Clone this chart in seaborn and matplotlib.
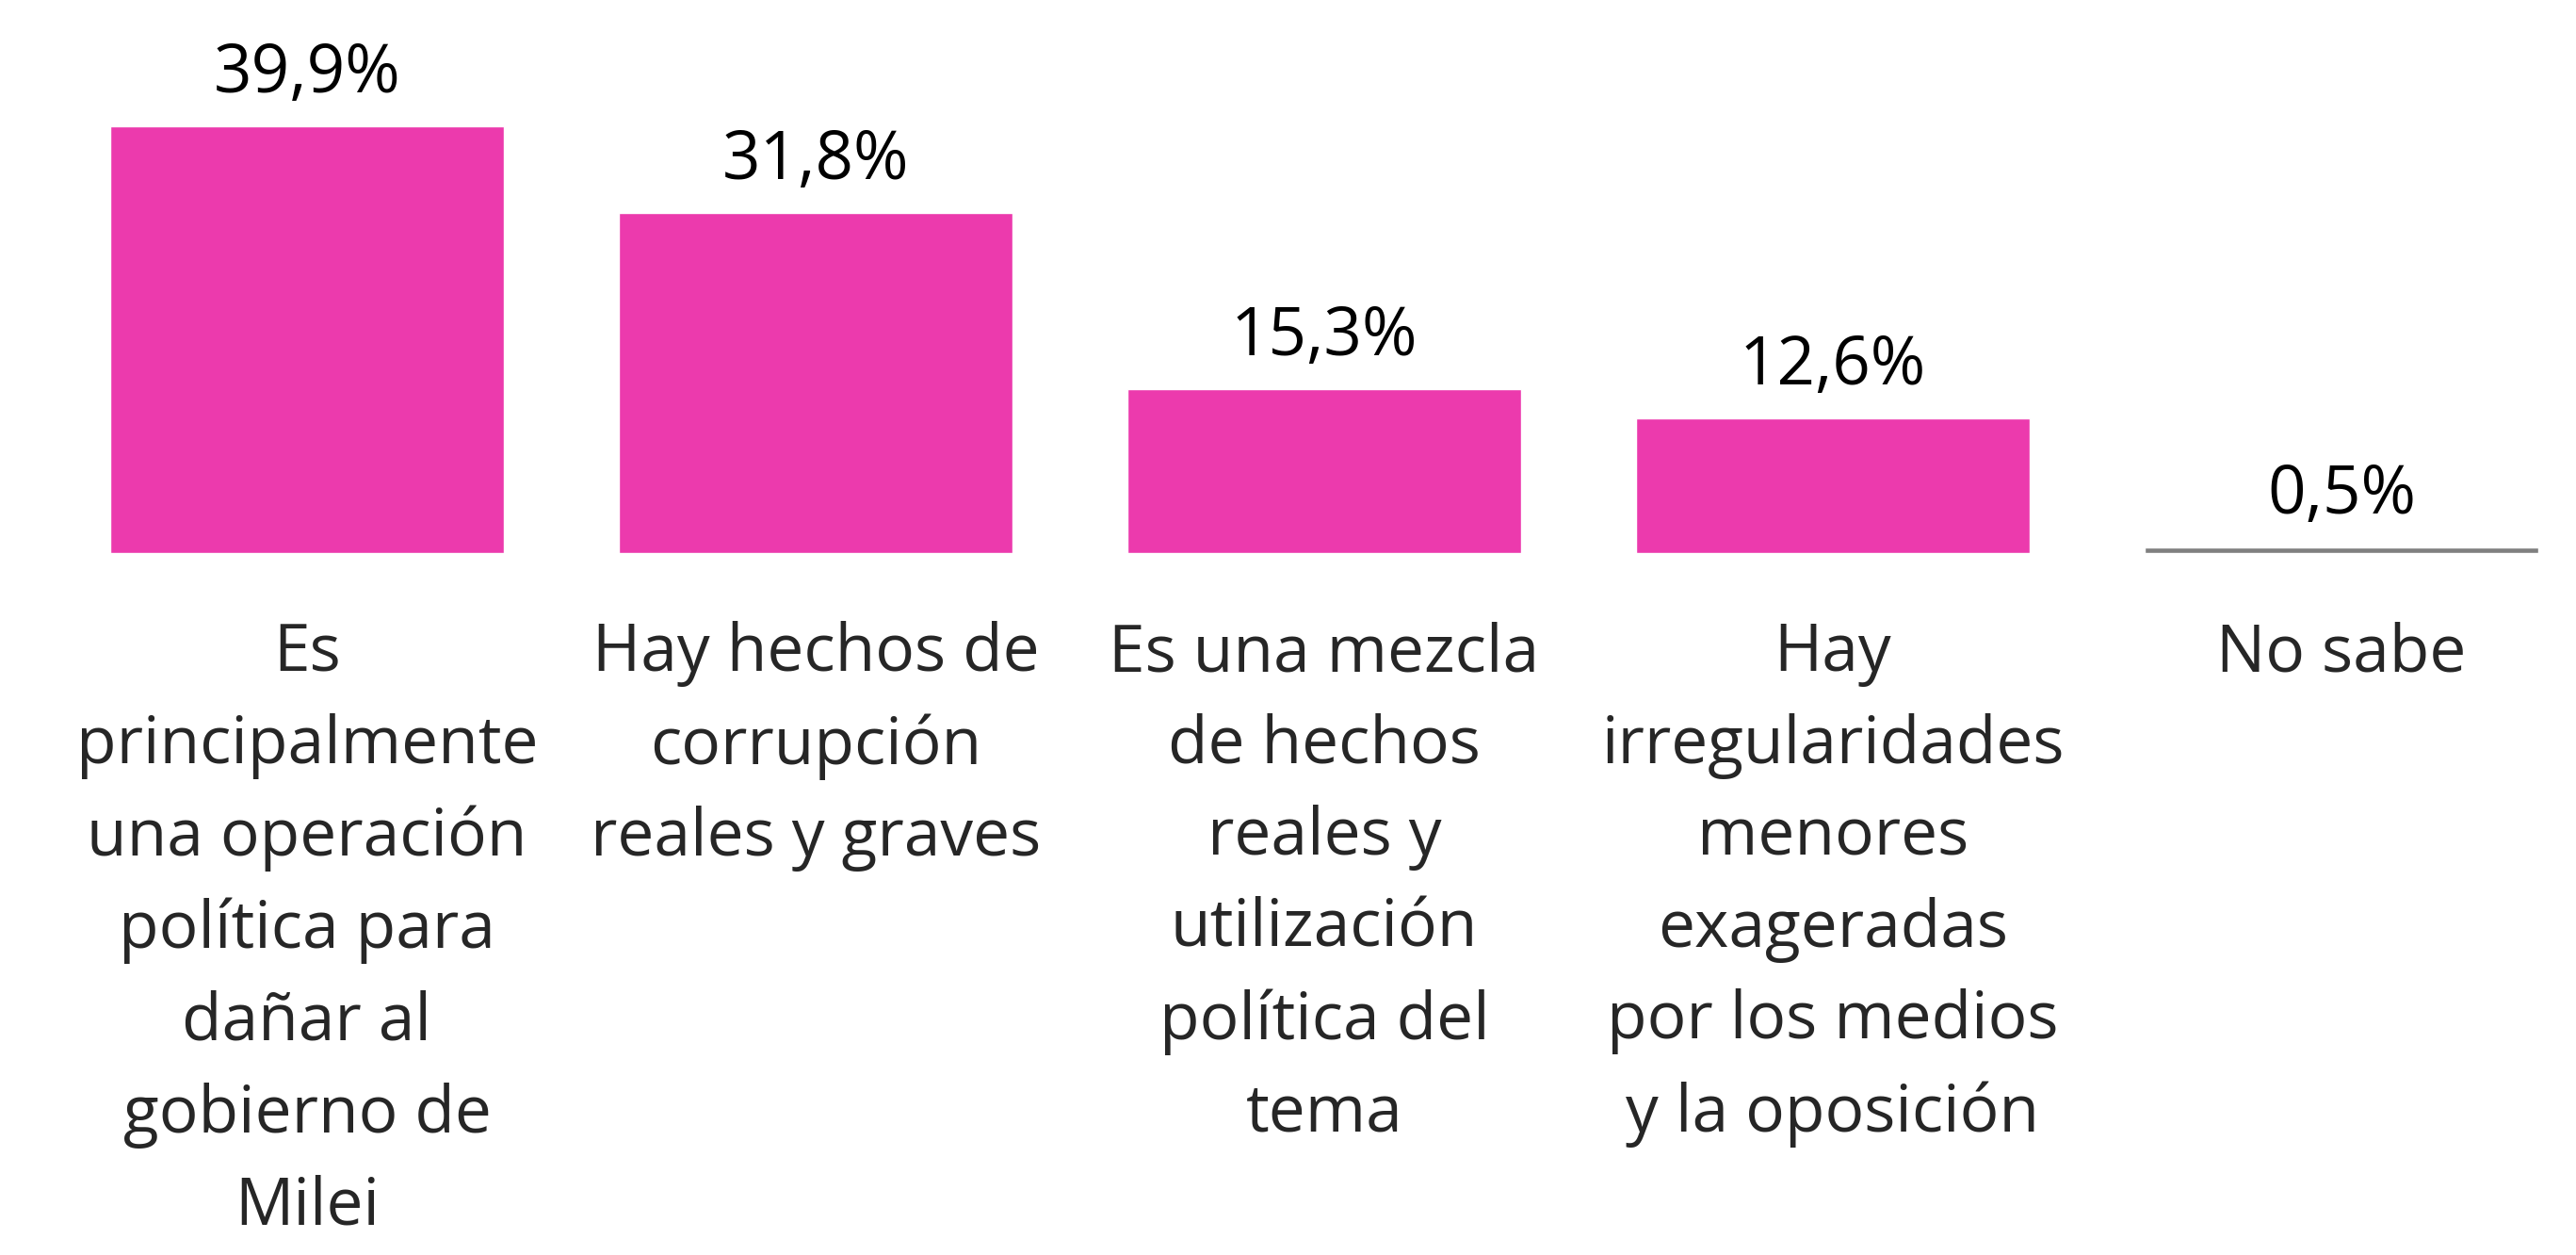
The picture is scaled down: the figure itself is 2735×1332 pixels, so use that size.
import pandas as pd
import matplotlib.pyplot as plt
import seaborn as sns

# datos
categorias = [
    'Es\nprincipalmente\nuna operación\npolítica para\ndañar al\ngobierno de\nMilei',
    'Hay hechos de\ncorrupción\nreales y graves',
    'Es una mezcla\nde hechos\nreales y\nutilización\npolítica del\ntema',
    'Hay\nirregularidades\nmenores\nexageradas\npor los medios\ny la oposición',
    'No sabe',
]
valores = [39.9, 31.8, 15.3, 12.6, 0.5]
etiquetas = ['39,9%', '31,8%', '15,3%', '12,6%', '0,5%']
colores = ['#EC3AAD', '#EC3AAD', '#EC3AAD', '#EC3AAD', '#808080']

sns.set_style('white')
plt.rcParams['font.family'] = ['Open Sans', 'DejaVu Sans']

df = pd.DataFrame({'cat': categorias, 'val': valores})

fig = plt.figure(figsize=(27.35, 13.32), dpi=100)
ax = fig.add_axes([56 / 2735, 1 - 587 / 1332, 2646 / 2735, 587 / 1332 - 0.0])

sns.barplot(data=df, x='cat', y='val', hue='cat', palette=colores,
            legend=False, width=0.775, saturation=1, ax=ax)

ax.set_xlim(-0.5, 4.4)
ax.set_ylim(0, 39.9 * 587 / (587 - 134))
for c, lab in zip(ax.containers, etiquetas):
    ax.bar_label(c, labels=[lab], padding=14, fontsize=51, color='black')

ax.set_xlabel('')
ax.set_ylabel('')
ax.set_yticks([])
ax.tick_params(axis='x', length=0, pad=52)
ax.set_xticks(range(len(categorias)))
ax.set_xticklabels(categorias, fontsize=50, linespacing=1.52, va='top')
sns.despine(ax=ax, left=True, bottom=True)

fig.savefig('out.png', dpi=100)
